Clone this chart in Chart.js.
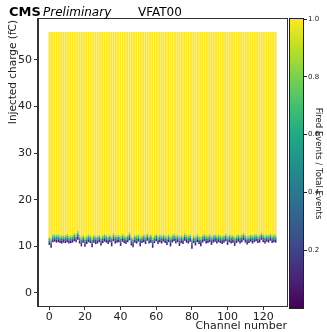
<!DOCTYPE html>
<html><head><meta charset="utf-8">
<script src="https://cdn.jsdelivr.net/npm/chart.js@4/dist/chart.umd.min.js"></script>
<style>
html,body{margin:0;padding:0;background:#fff;}
#wrap{position:relative;width:327px;height:332px;overflow:hidden;}
#main{position:absolute;left:0;top:0;}
#cbar{position:absolute;left:289px;top:0;}
</style></head><body>
<div id="wrap"><canvas id="main" width="327" height="332"></canvas><canvas id="cbar" width="38" height="332"></canvas></div>
<script>
// ---- data ----
const onset = [
 10.3,9.7,10.9,11.0,10.8,10.9,10.7,10.6, 10.8,10.7,10.9,10.6,10.7,10.8,11.1,10.9, 11.4,10.6,10.0,10.8,9.9,10.5,10.9,10.7, 9.8,10.8,10.5,10.6,10.9,10.2,10.7,11.0,
 10.8,10.5,10.9,10.0,11.1,10.6,10.8,10.9, 10.1,11.0,10.7,10.5,10.9,11.3,10.2,9.8, 10.8,10.6,11.0,10.0,10.7,10.9,10.5,11.2, 10.6,10.8,9.7,10.7,11.1,10.5,10.9,10.6,
 11.0,10.7,10.3,10.9,10.0,10.8,11.1,10.6, 10.9,10.1,10.7,10.5,11.2,10.8,10.6,11.0, 9.5,10.7,10.2,10.9,10.5,10.0,10.8,11.1, 10.6,10.7,10.9,10.3,10.8,11.0,10.6,10.9,
 10.7,10.5,10.8,11.1,10.3,10.9,10.6,10.8, 10.1,10.7,11.0,10.6,10.9,11.3,10.8,10.4, 10.7,11.0,10.6,10.9,11.1,10.7,10.8,11.4, 10.9,10.6,11.0,10.8,11.2,10.7,10.9,10.8
];
const turnOnWidth = [
 1.7,2.1,1.7,1.6,1.8,1.7,1.7,1.8, 1.6,1.7,1.8,1.7,1.7,1.6,1.8,1.7, 1.9,1.8,2.0,1.6,2.1,1.8,1.7,1.7, 2.2,1.7,1.8,1.7,1.6,1.9,1.7,1.7,
 1.7,1.8,1.6,2.1,1.7,1.8,1.7,1.6, 2.1,1.7,1.7,1.8,1.6,1.7,1.9,2.2, 1.7,1.8,1.6,2.1,1.7,1.7,1.8,1.6, 1.7,1.8,2.2,1.7,1.6,1.8,1.7,1.8,
 1.6,1.7,1.9,1.7,2.1,1.7,1.6,1.8, 1.7,2.1,1.7,1.8,1.6,1.7,1.8,1.6, 2.4,1.7,1.9,1.7,1.8,2.0,1.7,1.6, 1.8,1.7,1.7,1.9,1.7,1.6,1.8,1.7,
 1.7,1.8,1.7,1.6,1.9,1.7,1.8,1.7, 2.0,1.7,1.6,1.8,1.7,1.6,1.7,1.8, 1.7,1.6,1.8,1.7,1.6,1.7,1.7,1.5, 1.7,1.8,1.6,1.7,1.6,1.7,1.7,1.7
];
const maxCharge = 56;
const channels = onset.map((_, i) => i);
const bandFractions = [0, 0.35, 0.55, 0.75, 1.0];   // fraction of turn-on width per efficiency band
const bandColors = ['#46287a', '#33638d', '#21a386', '#8fd744'];
const fullColor = '#fde725';
const xTicks = [0, 20, 40, 60, 80, 100, 120];
const yTicks = [0, 10, 20, 30, 40, 50];
const cbTicks = [0.2, 0.4, 0.6, 0.8, 1.0];
const viridis = ['#440154','#482475','#414487','#355f8d','#2a788e','#21918c','#22a884','#44bf70','#7ad151','#bddf26','#fde725'];

Chart.defaults.font.family = 'DejaVu Sans';
Chart.defaults.color = '#222';

// ---- build datasets ----
const datasets = [];
for (let b = 0; b < bandColors.length; b++) {
  datasets.push({
    data: channels.map(i => ({x: i, y: [onset[i] + bandFractions[b] * turnOnWidth[i], onset[i] + bandFractions[b + 1] * turnOnWidth[i]]})),
    backgroundColor: bandColors[b]
  });
}
datasets.push({
  data: channels.map(i => ({x: i, y: [onset[i] + turnOnWidth[i], maxCharge]})),
  backgroundColor: fullColor
});
datasets.forEach(d => { d.grouped = false; d.barPercentage = 0.9; d.categoryPercentage = 1; d.borderWidth = 0; d.borderSkipped = false; });

const framePlugin = {
  id: 'frame',
  afterDraw(chart) {
    const {ctx, chartArea: a} = chart;
    ctx.save();
    ctx.strokeStyle = '#333';
    ctx.lineWidth = 1;
    ctx.strokeRect(Math.round(a.left) - 0.5, Math.round(a.top) - 0.5, Math.round(a.right - a.left) + 1, Math.round(a.bottom - a.top) + 1);
    ctx.restore();
  }
};
const textPlugin = {
  id: 'texts',
  afterDraw(chart) {
    const ctx = chart.ctx;
    ctx.save();
    ctx.fillStyle = '#000';
    ctx.textBaseline = 'alphabetic';
    ctx.textAlign = 'left';
    ctx.font = 'bold 13px "DejaVu Sans"';
    ctx.fillText('CMS', 9, 16);
    ctx.font = 'oblique 12px "DejaVu Sans"';
    ctx.fillText('Preliminary', 43, 16);
    ctx.font = '12px "DejaVu Sans"';
    ctx.fillText('VFAT00', 138, 16);
    ctx.fillStyle = '#222';
    ctx.font = '11px "DejaVu Sans"';
    ctx.textAlign = 'right';
    ctx.fillText('Channel number', 287, 329);
    ctx.translate(16, 20);
    ctx.rotate(-Math.PI / 2);
    ctx.font = '10.5px "DejaVu Sans"';
    ctx.textAlign = 'right';
    ctx.fillText('Injected charge (fC)', 0, 0);
    ctx.restore();
  }
};

new Chart(document.getElementById('main'), {
  type: 'bar',
  data: {datasets},
  options: {
    responsive: false, animation: false, devicePixelRatio: 1,
    layout: {padding: {top: 19, right: 40, left: 0, bottom: 0}},
    plugins: {legend: {display: false}, tooltip: {enabled: false}},
    scales: {
      x: {
        type: 'linear', min: -6.35, max: 133.35, offset: false,
        afterBuildTicks: s => { s.ticks = xTicks.map(v => ({value: v})); },
        afterFit: s => { s.height = 26; },
        grid: {drawOnChartArea: false, drawTicks: true, tickLength: 4, color: '#333', offset: false},
        border: {color: '#333', width: 1},
        ticks: {font: {size: 11}, color: '#222', padding: 1, maxRotation: 0, autoSkip: false}
      },
      y: {
        type: 'linear', min: -2.8, max: 58.8,
        afterBuildTicks: s => { s.ticks = yTicks.map(v => ({value: v})); },
        afterFit: s => { s.width = 38; },
        grid: {drawOnChartArea: false, drawTicks: true, tickLength: 4, color: '#333'},
        border: {color: '#333', width: 1},
        ticks: {font: {size: 11}, color: '#222', padding: 2, autoSkip: false}
      }
    }
  },
  plugins: [framePlugin, textPlugin]
});

// ---- colorbar ----
const cbFrame = {
  id: 'cbframe',
  afterDraw(chart) {
    const {ctx, chartArea: a} = chart;
    ctx.save();
    ctx.strokeStyle = '#222';
    ctx.lineWidth = 1;
    ctx.strokeRect(Math.round(a.left) + 0.5, Math.round(a.top) - 0.5, Math.round(a.right - a.left) - 1, Math.round(a.bottom - a.top) + 1);
    ctx.fillStyle = '#222';
    ctx.font = '8.5px "DejaVu Sans"';
    ctx.textAlign = 'center';
    ctx.textBaseline = 'alphabetic';
    ctx.translate(27, (a.top + a.bottom) / 2);
    ctx.rotate(Math.PI / 2);
    ctx.fillText('Fired Events / Total Events', 0, 0);
    ctx.restore();
  }
};
new Chart(document.getElementById('cbar'), {
  type: 'bar',
  data: {labels: [''], datasets: [{
    data: [[0, 1]],
    backgroundColor: ctx => {
      const a = ctx.chart.chartArea;
      if (!a) return viridis[5];
      const g = ctx.chart.ctx.createLinearGradient(0, a.bottom, 0, a.top);
      viridis.forEach((c, i) => g.addColorStop(i / (viridis.length - 1), c));
      return g;
    },
    barPercentage: 1, categoryPercentage: 1, borderWidth: 0, borderSkipped: false
  }]},
  options: {
    responsive: false, animation: false, devicePixelRatio: 1,
    layout: {padding: {top: 19, bottom: 24, left: 0, right: 0}},
    plugins: {legend: {display: false}, tooltip: {enabled: false}},
    scales: {
      x: {display: false},
      y: {
        position: 'right', min: 0, max: 1,
        afterBuildTicks: s => { s.ticks = cbTicks.map(v => ({value: v})); },
        afterFit: s => { s.width = 23; },
        grid: {drawOnChartArea: false, drawTicks: true, tickLength: 3, color: '#222'},
        border: {display: false},
        ticks: {font: {size: 7}, color: '#222', padding: 1, callback: v => Number(v).toFixed(1)}
      }
    }
  },
  plugins: [cbFrame]
});
</script>
</body></html>
